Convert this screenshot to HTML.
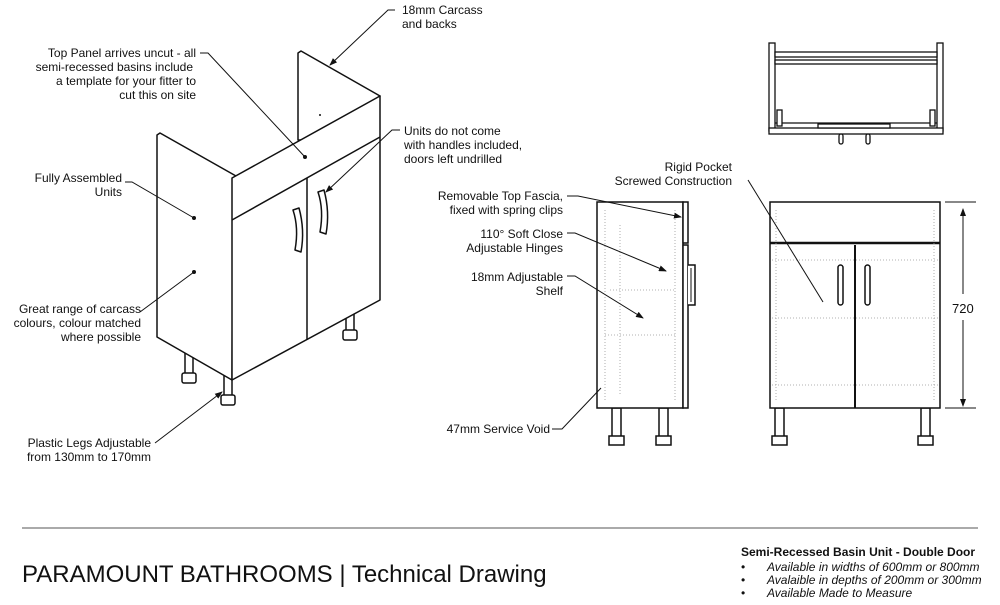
<!DOCTYPE html>
<html><head><meta charset="utf-8"><style>
html,body{margin:0;padding:0;background:#fff;}
svg{display:block;}
text{font-family:"Liberation Sans",Arial,sans-serif;fill:#111;}
.t{font-size:12px;}
</style></head><body>
<svg width="1000" height="605" viewBox="0 0 1000 605" xmlns="http://www.w3.org/2000/svg">
<defs><marker id="a" markerWidth="8" markerHeight="6" refX="7" refY="3" orient="auto" markerUnits="userSpaceOnUse"><path d="M0,0 L8,3 L0,6z" fill="#111"/></marker></defs>
<g fill="#fff" stroke="#111" stroke-width="1.5" stroke-linejoin="round">
<rect x="185" y="345" width="8" height="30"/><rect x="182" y="373" width="14" height="10" rx="2"/>
<rect x="224" y="375" width="8" height="22"/><rect x="221" y="395" width="14" height="10" rx="2"/>
<rect x="346" y="305" width="8" height="28"/><rect x="343" y="330" width="14" height="10" rx="2"/>
<polygon points="298,53 301,51 380,96 377,98 377,140 298,140"/>
<polygon points="157,135 160,133 236,176 233,178 232,380 157,337"/>
<polygon points="232,178 380,96 380,300 232,380"/>
<line x1="232" y1="220" x2="380" y2="137"/>
<line x1="307" y1="178" x2="307" y2="340"/>
<path d="M293,210 q6,18 2,40 l6,2 q4,-22 -2,-44z"/>
<path d="M318,192 q6,18 2,40 l6,2 q4,-22 -2,-44z"/>
</g>
<g fill="#111"><circle cx="194" cy="218" r="2"/><circle cx="194" cy="272" r="2"/><circle cx="305" cy="157" r="2"/><circle cx="320" cy="115" r="1"/><circle cx="601" cy="388" r="2"/><circle cx="823" cy="302" r="2"/></g>

<g fill="#fff" stroke="#111" stroke-width="1.3">
<rect x="769" y="43" width="6" height="88"/><rect x="937" y="43" width="6" height="88"/>
<rect x="775" y="52" width="162" height="5"/><rect x="775" y="60" width="162" height="4"/>
<line x1="775" y1="123" x2="937" y2="123"/>
<rect x="769" y="128" width="174" height="6"/>
<rect x="818" y="124" width="72" height="4"/>
<rect x="777" y="110" width="5" height="16"/><rect x="930" y="110" width="5" height="16"/>
<rect x="839" y="134" width="4" height="10" rx="2"/><rect x="866" y="134" width="4" height="10" rx="2"/>
</g>

<g fill="#fff" stroke="#111" stroke-width="1.5">
<rect x="612" y="408" width="9" height="30"/><rect x="609" y="436" width="15" height="9"/>
<rect x="659" y="408" width="9" height="30"/><rect x="656" y="436" width="15" height="9"/>
<rect x="597" y="202" width="86" height="206"/>
<rect x="683" y="202" width="5" height="41"/><rect x="683" y="245" width="5" height="163"/>
<path d="M688,265 h7 v40 h-7" /><path d="M691,268 v34" stroke-width="1"/>
</g>
<g stroke="#999" stroke-width="0.8" stroke-dasharray="1,2" fill="none">
<line x1="610" y1="290" x2="675" y2="290"/><line x1="605" y1="210" x2="605" y2="400"/><line x1="675" y1="210" x2="675" y2="400"/>
<line x1="620" y1="225" x2="620" y2="395"/><line x1="605" y1="335" x2="675" y2="335"/>
</g>

<g fill="#fff" stroke="#111" stroke-width="1.5">
<rect x="775" y="408" width="9" height="30"/><rect x="772" y="436" width="15" height="9"/>
<rect x="921" y="408" width="9" height="30"/><rect x="918" y="436" width="15" height="9"/>
<rect x="770" y="202" width="170" height="206"/>
<line x1="770" y1="243" x2="940" y2="243" stroke-width="2.5"/>
<line x1="855" y1="245" x2="855" y2="408" stroke-width="2"/>
<rect x="838" y="265" width="5" height="40" rx="2.5"/><rect x="865" y="265" width="5" height="40" rx="2.5"/>
</g>
<g stroke="#999" stroke-width="0.8" stroke-dasharray="1,2" fill="none">
<line x1="776" y1="210" x2="776" y2="400"/><line x1="934" y1="210" x2="934" y2="400"/>
<line x1="772" y1="260" x2="938" y2="260"/><line x1="772" y1="318" x2="938" y2="318"/><line x1="772" y1="385" x2="938" y2="385"/>
</g>
<g stroke="#111" stroke-width="1" fill="none">
<line x1="945" y1="202" x2="976" y2="202"/><line x1="945" y1="408" x2="976" y2="408"/>
<line x1="963" y1="210" x2="963" y2="295" marker-end="url(#a)" transform="rotate(180 963 252)"/>
<line x1="963" y1="320" x2="963" y2="406" marker-end="url(#a)"/>
</g>
<text x="952" y="313" style="font-size:13px">720</text>

<g stroke="#111" stroke-width="1" fill="none">
<polyline points="395,10 388,10 330,65" marker-end="url(#a)"/>
<polyline points="200,53 208,53 305,157"/>
<polyline points="125,182 132,182 194,218"/>
<polyline points="140,312 194,272"/>
<polyline points="155,443 222,392" marker-end="url(#a)"/>
<polyline points="400,130 392,130 326,192" marker-end="url(#a)"/>
<polyline points="567,196 578,196 681,217" marker-end="url(#a)"/>
<polyline points="567,233 575,233 666,271" marker-end="url(#a)"/>
<polyline points="567,276 575,276 643,318" marker-end="url(#a)"/>
<polyline points="552,429 562,429 601,388"/>
<polyline points="748,180 823,302"/>
</g>

<g class="t">
<text x="402" y="14">18mm Carcass</text><text x="402" y="28">and backs</text>
<text x="196" y="57" text-anchor="end">Top Panel arrives uncut - all</text>
<text x="193" y="71" text-anchor="end">semi-recessed basins include</text>
<text x="196" y="85" text-anchor="end">a template for your fitter to</text>
<text x="196" y="99" text-anchor="end">cut this on site</text>
<text x="122" y="182" text-anchor="end">Fully Assembled</text><text x="122" y="196" text-anchor="end">Units</text>
<text x="141" y="313" text-anchor="end">Great range of carcass</text>
<text x="141" y="327" text-anchor="end">colours, colour matched</text>
<text x="141" y="341" text-anchor="end">where possible</text>
<text x="151" y="447" text-anchor="end">Plastic Legs Adjustable</text>
<text x="151" y="461" text-anchor="end">from 130mm to 170mm</text>
<text x="404" y="135">Units do not come</text><text x="404" y="149">with handles included,</text><text x="404" y="163">doors left undrilled</text>
<text x="563" y="200" text-anchor="end">Removable Top Fascia,</text><text x="563" y="214" text-anchor="end">fixed with spring clips</text>
<text x="563" y="238" text-anchor="end">110° Soft Close</text><text x="563" y="252" text-anchor="end">Adjustable Hinges</text>
<text x="563" y="281" text-anchor="end">18mm Adjustable</text><text x="563" y="295" text-anchor="end">Shelf</text>
<text x="550" y="433" text-anchor="end">47mm Service Void</text>
<text x="732" y="171" text-anchor="end">Rigid Pocket</text><text x="732" y="185" text-anchor="end">Screwed Construction</text>
</g>

<line x1="22" y1="528" x2="978" y2="528" stroke="#555" stroke-width="1"/>
<text x="22" y="582" style="font-size:24px">PARAMOUNT BATHROOMS | Technical Drawing</text>
<text x="741" y="556" style="font-size:12px;font-weight:bold">Semi-Recessed Basin Unit - Double Door</text>
<g style="font-size:12px;font-style:italic">
<text x="741" y="571" style="font-style:normal">•</text><text x="767" y="571">Available in widths of 600mm or 800mm</text>
<text x="741" y="584" style="font-style:normal">•</text><text x="767" y="584">Avalaible in depths of 200mm or 300mm</text>
<text x="741" y="597" style="font-style:normal">•</text><text x="767" y="597">Available Made to Measure</text>
</g>
</svg>
</body></html>
